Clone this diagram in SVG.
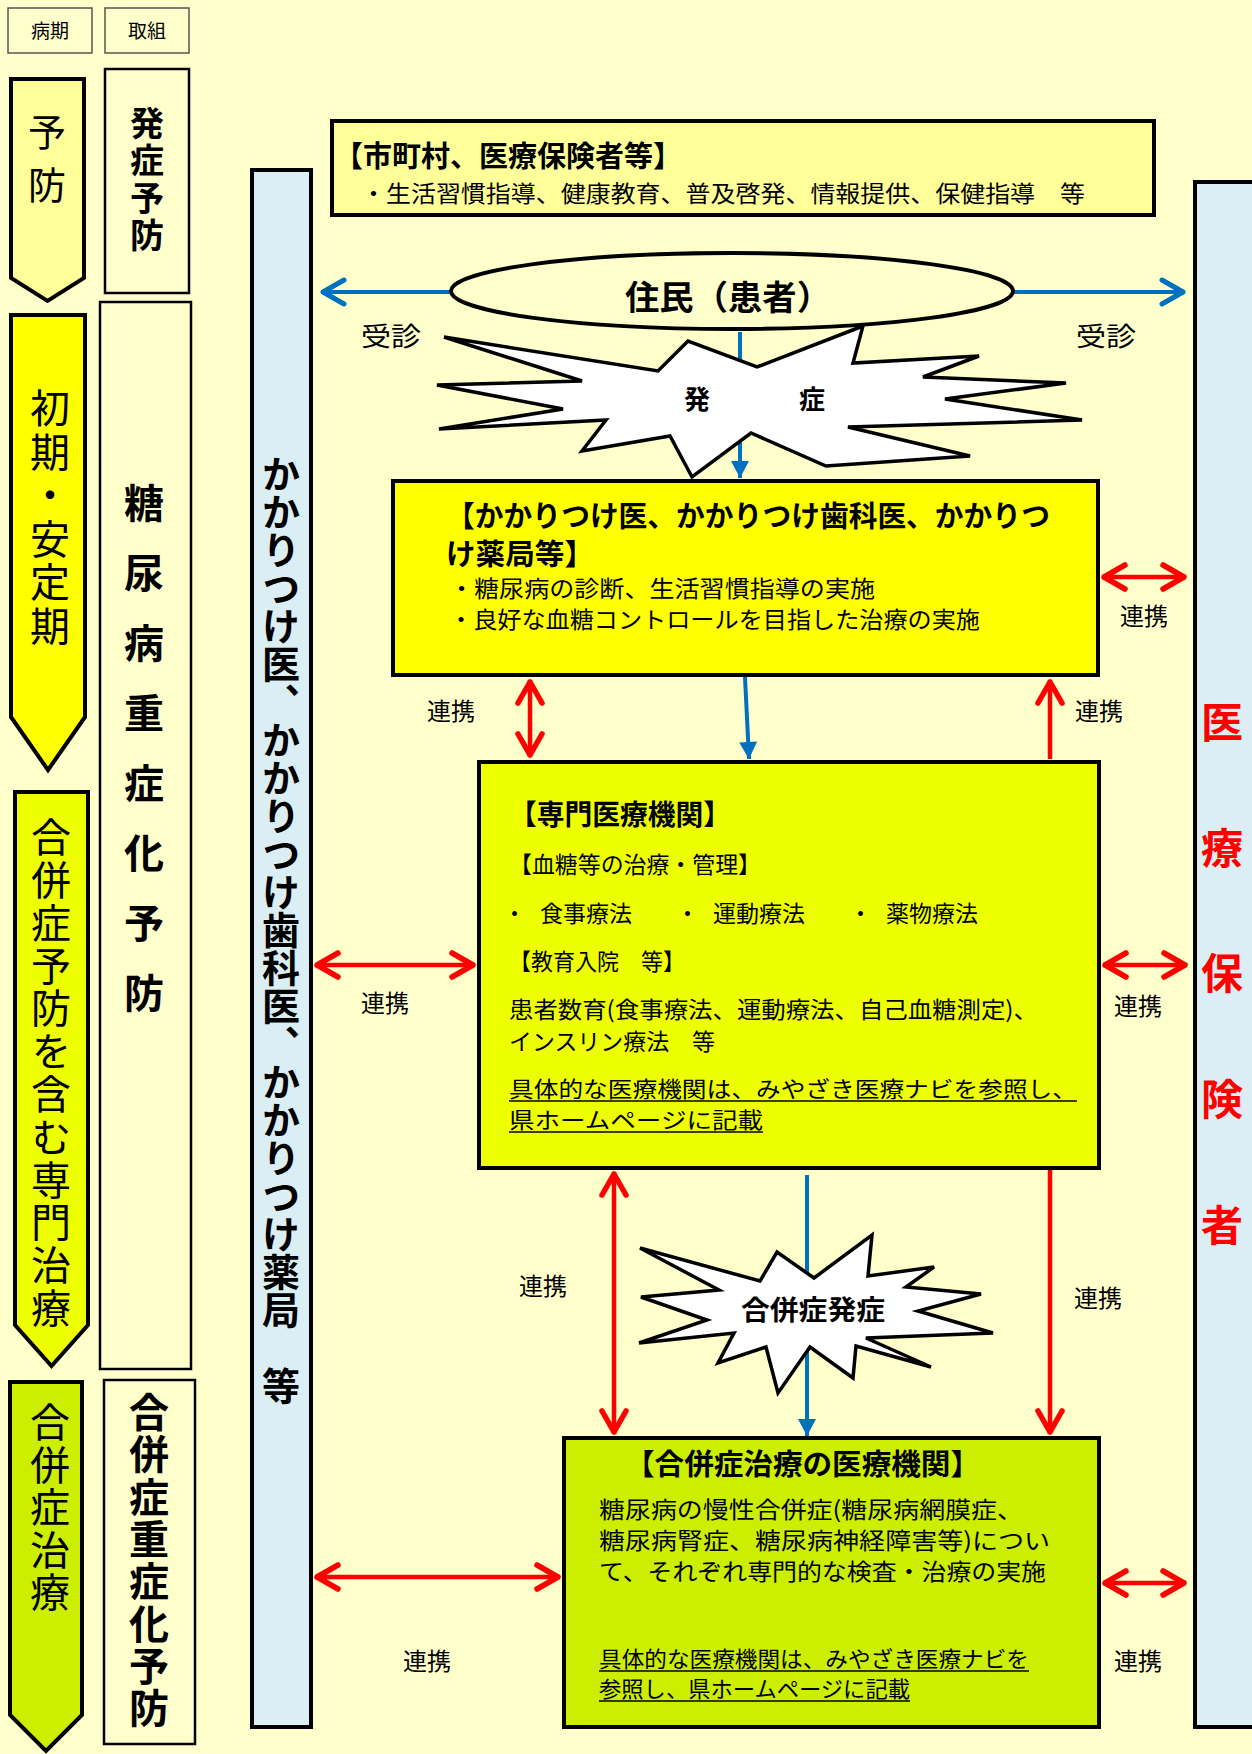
<svg xmlns="http://www.w3.org/2000/svg" width="1252" height="1754" viewBox="0 0 1252 1754">
<style>
text{font-family:"Noto Sans CJK JP","Noto Sans CJK SC",sans-serif;fill:#000}
.b{font-weight:bold}
.v{writing-mode:vertical-rl}
.lbl{font-size:24px}
.body{font-size:23px}
.ul{stroke:#000;stroke-width:1.6}
.hdr{fill:#FFFFCC;stroke:#555;stroke-width:1.5}
.tall{fill:#FFFFCC;stroke:#000;stroke-width:2.5}
.pent{stroke:#000;stroke-width:4;stroke-linejoin:miter}
.col{fill:#DAEEF3;stroke:#000;stroke-width:4}
.box{stroke:#000;stroke-width:4}
.star{fill:#fff;stroke:#000;stroke-width:3.5;stroke-linejoin:miter}
.red{stroke:#FF0000;stroke-width:4.5;fill:none}
.blue{stroke:#0070C0;stroke-width:4;fill:none}
</style>
<defs>
<marker id="rh" viewBox="-30 -20 40 40" markerWidth="40" markerHeight="40" refX="2" refY="0" orient="auto-start-reverse" markerUnits="userSpaceOnUse">
<path d="M-21,-12 L0,0 L-21,12" fill="none" stroke="#FF0000" stroke-width="5.5" stroke-linecap="round" stroke-linejoin="round"/>
</marker>
<marker id="bh" viewBox="-30 -20 40 40" markerWidth="40" markerHeight="40" refX="2" refY="0" orient="auto-start-reverse" markerUnits="userSpaceOnUse">
<path d="M-21,-12 L0,0 L-21,12" fill="none" stroke="#0070C0" stroke-width="5" stroke-linecap="round" stroke-linejoin="round"/>
</marker>
<marker id="bf" viewBox="-30 -20 40 40" markerWidth="40" markerHeight="40" refX="0" refY="0" orient="auto" markerUnits="userSpaceOnUse">
<path d="M-17,-9 L0,0 L-17,9 Z" fill="#0070C0"/>
</marker>
</defs>
<rect x="0" y="0" width="1252" height="1754" fill="#FFFFCC"/>

<!-- left header column -->
<g id="hdr-byoki"><rect class="hdr" x="8" y="8" width="84" height="45"/><text x="50" y="38" text-anchor="middle" font-size="19">病期</text></g>
<g id="hdr-torikumi"><rect class="hdr" x="105" y="8" width="84" height="45"/><text x="147" y="38" text-anchor="middle" font-size="19">取組</text></g>

<g id="stage-yobo"><path class="pent" fill="#FFFF99" d="M11,79 H84 V278 L47.5,301 L11,278 Z"/><text class="v" x="47" y="113" font-size="38" letter-spacing="15">予防</text></g>
<g id="stage-shoki"><path class="pent" fill="#FFFF00" d="M11,315 H85 V717 L48,770 L11,717 Z"/><text class="v" x="50" y="388" font-size="40" letter-spacing="3.5">初期・安定期</text></g>
<g id="stage-gappei-yobo"><path class="pent" fill="#EEFF00" d="M15,792 H88 V1325 L51.5,1366 L15,1325 Z"/><text class="v" x="51" y="817" font-size="40" letter-spacing="2.8">合併症予防を含む専門治療</text></g>
<g id="stage-gappei-chiryo"><path class="pent" fill="#CCEE00" d="M10,1382 H82 V1715 L46,1751 L10,1715 Z"/><text class="v" x="50" y="1402" font-size="40" letter-spacing="2.5">合併症治療</text></g>

<g id="act-hassho"><rect class="tall" x="105" y="69" width="84" height="224"/><text class="v b" x="147" y="106" font-size="34" letter-spacing="3.5">発症予防</text></g>
<g id="act-jushoka"><rect class="tall" x="100" y="302" width="91" height="1067"/><text class="v b" x="144" y="483" font-size="40" letter-spacing="30">糖尿病重症化予防</text></g>
<g id="act-gappei"><rect class="tall" x="104" y="1380" width="91" height="364"/><text class="v b" x="149" y="1392" font-size="40" letter-spacing="2.3">合併症重症化予防</text></g>

<!-- connectors -->
<g id="connectors">
<line class="blue" x1="451" y1="292" x2="321" y2="292" marker-end="url(#bh)"/>
<line class="blue" x1="1013" y1="292" x2="1185" y2="292" marker-end="url(#bh)"/>
<line class="blue" x1="740" y1="332" x2="740" y2="478" marker-end="url(#bf)"/>
<line class="red" x1="1102" y1="577" x2="1186" y2="577" marker-start="url(#rh)" marker-end="url(#rh)"/>
<line class="red" x1="530" y1="680" x2="530" y2="757" marker-start="url(#rh)" marker-end="url(#rh)"/>
<line class="blue" x1="745" y1="677" x2="749" y2="759" marker-end="url(#bf)"/>
<line class="red" x1="1050" y1="759" x2="1050" y2="680" marker-end="url(#rh)"/>
<line class="red" x1="315" y1="965" x2="475" y2="965" marker-start="url(#rh)" marker-end="url(#rh)"/>
<line class="red" x1="1103" y1="965" x2="1187" y2="965" marker-start="url(#rh)" marker-end="url(#rh)"/>
<line class="red" x1="614" y1="1172" x2="614" y2="1434" marker-start="url(#rh)" marker-end="url(#rh)"/>
<line class="blue" x1="807" y1="1175" x2="807" y2="1436" marker-end="url(#bf)"/>
<line class="red" x1="1050" y1="1170" x2="1050" y2="1434" marker-end="url(#rh)"/>
<line class="red" x1="315" y1="1577" x2="560" y2="1577" marker-start="url(#rh)" marker-end="url(#rh)"/>
<line class="red" x1="1103" y1="1583" x2="1186" y2="1583" marker-start="url(#rh)" marker-end="url(#rh)"/>
<text class="lbl" x="1120" y="625">連携</text>
<text class="lbl" x="427" y="720">連携</text>
<text class="lbl" x="1075" y="720">連携</text>
<text class="lbl" x="361" y="1012">連携</text>
<text class="lbl" x="1114" y="1015">連携</text>
<text class="lbl" x="519" y="1295">連携</text>
<text class="lbl" x="1074" y="1307">連携</text>
<text class="lbl" x="403" y="1670">連携</text>
<text class="lbl" x="1114" y="1670">連携</text>
<text x="361" y="346" font-size="26" textLength="60" lengthAdjust="spacingAndGlyphs">受診</text>
<text x="1076" y="346" font-size="26" textLength="60" lengthAdjust="spacingAndGlyphs">受診</text>
</g>

<!-- columns -->
<g id="col-left"><rect class="col" x="252" y="170" width="59" height="1557"/><text class="v b" x="281" y="455" font-size="38">かかりつけ医、かかりつけ歯科医、かかりつけ薬局　等</text></g>
<g id="col-right"><rect class="col" x="1195" y="182" width="62" height="1545"/><text class="v b" x="1222" y="701" font-size="42" letter-spacing="83.7" style="fill:#FF0000">医療保険者</text></g>

<!-- top box -->
<g id="box-municipal">
<rect class="box" fill="#FFFF99" x="332" y="121" width="822" height="94"/>
<text class="b" x="334" y="167" font-size="29" textLength="348" lengthAdjust="spacingAndGlyphs">【市町村、医療保険者等】</text>
<text x="361" y="202" font-size="23" textLength="724" lengthAdjust="spacingAndGlyphs">・生活習慣指導、健康教育、普及啓発、情報提供、保健指導　等</text>
</g>

<g id="node-resident">
<ellipse cx="732" cy="291" rx="281" ry="38" fill="#FFFFCC" stroke="#000" stroke-width="4"/>
<text class="b" x="625" y="310" font-size="34" textLength="206" lengthAdjust="spacingAndGlyphs">住民（患者）</text>
</g>

<g id="node-onset">
<polygon class="star" points="444,337 658,371 688,341 757,367 863,326 853,363 979,356 923,377 1066,383 945,399 1082,420 848,427 970,456 826,466 751,433 692,477 670,436 582,451 606,420 439,429 563,409 437,385 582,381"/>
<text class="b" x="697" y="409" text-anchor="middle" font-size="26">発</text>
<text class="b" x="812" y="409" text-anchor="middle" font-size="26">症</text>
</g>

<g id="box-kakaritsuke">
<rect class="box" fill="#FFFF00" x="393" y="481" width="705" height="194"/>
<text class="b" x="446" y="527" font-size="29" textLength="604" lengthAdjust="spacingAndGlyphs">【かかりつけ医、かかりつけ歯科医、かかりつ</text>
<text class="b" x="446" y="565" font-size="29" textLength="148" lengthAdjust="spacingAndGlyphs">け薬局等】</text>
<text class="body" x="449" y="597" textLength="426" lengthAdjust="spacingAndGlyphs">・糖尿病の診断、生活習慣指導の実施</text>
<text class="body" x="449" y="628" textLength="531" lengthAdjust="spacingAndGlyphs">・良好な血糖コントロールを目指した治療の実施</text>
</g>

<g id="box-senmon">
<rect class="box" fill="#EEFF00" x="479" y="762" width="620" height="406"/>
<text class="b" x="509" y="825" font-size="28" textLength="222" lengthAdjust="spacingAndGlyphs">【専門医療機関】</text>
<text class="body" x="509" y="873" textLength="252" lengthAdjust="spacingAndGlyphs">【血糖等の治療・管理】</text>
<text class="body" y="922"><tspan x="503">・</tspan><tspan x="540">食事療法</tspan><tspan x="676">・</tspan><tspan x="713">運動療法</tspan><tspan x="849">・</tspan><tspan x="886">薬物療法</tspan></text>
<text class="body" x="509" y="970" textLength="176" lengthAdjust="spacingAndGlyphs">【教育入院　等】</text>
<text class="body" x="509" y="1018" textLength="529" lengthAdjust="spacingAndGlyphs">患者数育(食事療法、運動療法、自己血糖測定)、</text>
<text class="body" x="509" y="1050" textLength="206" lengthAdjust="spacingAndGlyphs">インスリン療法　等</text>
<text x="509" y="1097" font-size="22" textLength="568" lengthAdjust="spacingAndGlyphs">具体的な医療機関は、みやざき医療ナビを参照し、</text>
<text x="509" y="1128" font-size="22" textLength="254" lengthAdjust="spacingAndGlyphs">県ホームページに記載</text>
<line class="ul" x1="509" y1="1101" x2="1077" y2="1101"/>
<line class="ul" x1="509" y1="1132" x2="763" y2="1132"/>
</g>

<g id="node-complication-onset">
<polygon class="star" points="640,1248 760,1281 777,1252 814,1278 872,1235 868,1276 934,1267 906,1287 981,1294 918,1311 993,1333 866,1338 931,1367 856,1346 853,1378 810,1347 778,1393 766,1347 718,1363 734,1333 639,1343 707,1320 641,1297 719,1290"/>
<text class="b" x="813" y="1320" text-anchor="middle" font-size="27" textLength="144" lengthAdjust="spacingAndGlyphs">合併症発症</text>
</g>

<g id="box-gappei">
<rect class="box" fill="#CCEE00" x="564" y="1438" width="535" height="289"/>
<text class="b" x="625" y="1475" font-size="29" textLength="355" lengthAdjust="spacingAndGlyphs">【合併症治療の医療機関】</text>
<text class="body" x="599" y="1518" textLength="424" lengthAdjust="spacingAndGlyphs">糖尿病の慢性合併症(糖尿病網膜症、</text>
<text class="body" x="599" y="1549" textLength="451" lengthAdjust="spacingAndGlyphs">糖尿病腎症、糖尿病神経障害等)につい</text>
<text class="body" x="599" y="1580" textLength="447" lengthAdjust="spacingAndGlyphs">て、それぞれ専門的な検査・治療の実施</text>
<text x="599" y="1667" font-size="22" textLength="430" lengthAdjust="spacingAndGlyphs">具体的な医療機関は、みやざき医療ナビを</text>
<text x="599" y="1697" font-size="22" textLength="311" lengthAdjust="spacingAndGlyphs">参照し、県ホームページに記載</text>
<line class="ul" x1="599" y1="1671" x2="1029" y2="1671"/>
<line class="ul" x1="599" y1="1701" x2="910" y2="1701"/>
</g>
</svg>
